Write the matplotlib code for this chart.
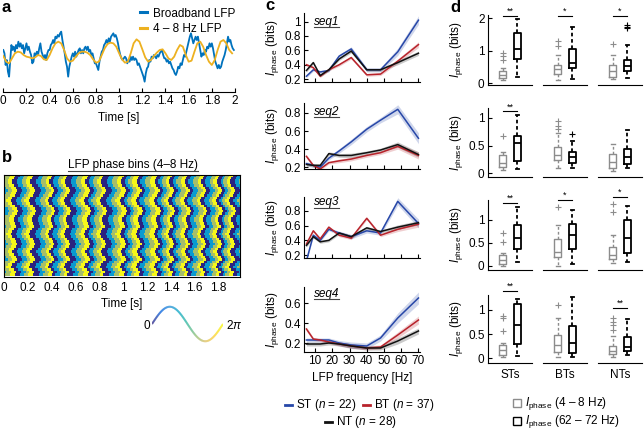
import numpy as np
import matplotlib
matplotlib.use("Agg")
import matplotlib.pyplot as plt
from matplotlib.colors import ListedColormap, LinearSegmentedColormap
from matplotlib.collections import LineCollection
from matplotlib.lines import Line2D

plt.rcParams['font.family'] = ['Liberation Sans', 'DejaVu Sans']
plt.rcParams['mathtext.fontset'] = 'custom'
plt.rcParams['mathtext.rm'] = 'Liberation Sans'
plt.rcParams['mathtext.it'] = 'Liberation Sans:italic'
plt.rcParams['font.size'] = 8.5
plt.rcParams['axes.linewidth'] = 0.8

W, H = 644, 430

# ---------------- panel a: example LFP trace (0.01 s / 0.025 s steps)
broadband = [
    2.0, 1.0, -2.5, -1.0, -4.5, -6.0, -1.0, 3.5, 2.0, 3.0, 1.5, 3.5, 2.5, 4.5, 3.0, 4.0, 2.5, 3.5, 1.0, 2.5,
    4.0, 2.0, 3.0, 1.5, 0.5, -2.0, -1.5, 1.0, 0.5, 1.5, 0.5, 2.5, 4.0, 1.5, 0.5, -0.5, 0.5, -1.0, 1.0, 2.0,
    2.0, 3.5, 4.0, 5.0, 4.0, 6.0, 5.5, 6.5, 6.0, 7.0, 7.5, 5.0, 3.0, 1.0, -1.5, -3.0, -6.0, -3.0, -1.5, 0.0,
    1.0, 0.0, 1.5, 0.0, 1.0, 2.0, 2.5, 1.0, 2.0, 1.0, 2.5, 3.0, 2.0, 3.0, 1.5, 2.0, 0.5, 1.0, -0.5, -2.0,
    -2.0, -3.0, -4.0, -1.5, 0.0, 1.5, 2.0, 3.5, 4.0, 5.0, 4.0, 5.5, 4.5, 6.0, 6.5, 7.0, 6.0, 6.5, 5.5, 4.0,
    2.0, 0.5, -0.5, -1.0, -0.5, 0.0, -0.5, -2.0, -1.0, -1.5, 0.0, -1.0, 0.0, -1.0, -0.5, -1.0, -2.5, -2.0, -3.0, -4.0,
    -5.0, -6.0, -7.5, -5.0, -3.5, -3.0, -1.0, -1.5, 0.0, -0.5, 0.5, 0.0, -0.5, 0.5, 0.0, 1.0, 1.5, 2.0, 0.5, -0.5,
    -0.5, -1.5, -1.0, -2.0, -1.5, -2.5, -3.5, -4.0, -5.0, -5.5, -4.5, -3.0, -3.5, -2.0, -2.5, -1.0, 0.5, 0.0, 1.5, 3.0,
    4.5, 6.0, 7.0, 5.5, 4.0, 5.0, 6.0, 5.0, 6.0, 4.0, 2.0, 0.0, 1.0, 0.5, 2.0, 1.5, 3.0, 2.5, 4.0, 3.0,
    4.0, 2.5, 0.5, -1.5, -2.5, -3.5, -2.5, -3.5, -3.0, -1.5, -0.5, 0.5, 2.0, 4.0, 6.0, 4.5, 5.0, 3.5, 2.5, 2.0,
]
theta = [
    0.2, -1.5, -2.0, -0.5, 1.0, 1.5, 1.3, 0.5, 0.0, -0.2,
    -0.5, -0.2, 0.5, 0.2, -0.8, -1.0, 0.5, 2.5, 4.0, 4.5,
    4.0, 2.0, -0.5, -1.5, -1.2, 0.0, 1.0, 1.5, 1.5, 1.2,
    0.5, -0.8, -1.8, -1.5, 0.5, 2.5, 3.8, 4.2, 4.0, 3.0,
    1.0, -0.8, -1.8, -1.5, 1.0, 4.0, 5.2, 4.5, 2.2, -0.2,
    -1.5, -1.0, 0.2, 1.2, 2.0, 2.2, 1.0, -0.5, -1.0, 0.0,
    2.0, 3.5, 3.0, 0.5, -1.5, -1.2, 1.5, 4.0, 4.5, 3.0,
    0.5, -1.5, -2.5, -1.0, 2.0, 4.5, 5.0, 4.0, 2.0, 1.0,
]
time_ticks = [0, 0.2, 0.4, 0.6, 0.8, 1, 1.2, 1.4, 1.6, 1.8, 2]

# ---------------- panel b: phase raster (times of the yellow bands, per-trial shifts)
yellow_centers = [-0.08, 0.070, 0.224, 0.387, 0.513, 0.681, 0.812, 0.980, 1.106,
                  1.260, 1.386, 1.512, 1.653, 1.787, 1.894, 2.03]
row_shift = [0.00, 0.01, 0.02, 0.02, 0.01, -0.01, -0.02, -0.01, 0.00, 0.02,
             0.03, 0.02, 0.00, -0.02, -0.03, -0.02, 0.00, 0.01, 0.01, 0.00,
             -0.01, 0.01, 0.02, 0.03, 0.02, 0.00, -0.01, -0.02, -0.01, 0.01,
             0.02, 0.01, -0.01, -0.02, 0.00, 0.02, 0.03, 0.01, -0.01, 0.00]
phase_colors = ['#2b2380', '#0a9ad0', '#a6be6a', '#f6f71a']

# ---------------- panel c: phase information vs LFP frequency
freqs = [5, 9, 13, 18, 24, 31, 40, 48, 58, 70]
seq1_st = [0.24, 0.33, 0.30, 0.32, 0.52, 0.62, 0.33, 0.33, 0.58, 1.02]
seq1_bt = [0.40, 0.36, 0.24, 0.33, 0.40, 0.50, 0.26, 0.27, 0.45, 0.68]
seq1_nt = [0.32, 0.43, 0.25, 0.33, 0.48, 0.59, 0.33, 0.33, 0.43, 0.56]
seq2_st = [0.24, 0.22, 0.20, 0.30, 0.38, 0.48, 0.62, 0.72, 0.84, 0.52]
seq2_bt = [0.32, 0.22, 0.18, 0.25, 0.27, 0.29, 0.33, 0.36, 0.43, 0.33]
seq2_nt = [0.23, 0.22, 0.22, 0.35, 0.33, 0.33, 0.36, 0.39, 0.45, 0.34]
seq3_st = [0.12, 0.47, 0.40, 0.55, 0.50, 0.45, 0.53, 0.50, 0.93, 0.63]
seq3_bt = [0.35, 0.53, 0.42, 0.58, 0.47, 0.43, 0.70, 0.47, 0.55, 0.62]
seq3_nt = [0.33, 0.45, 0.38, 0.40, 0.50, 0.45, 0.57, 0.52, 0.58, 0.64]
seq4_st = [0.23, 0.23, 0.23, 0.23, 0.20, 0.18, 0.17, 0.25, 0.45, 0.65]
seq4_bt = [0.34, 0.24, 0.23, 0.21, 0.19, 0.17, 0.15, 0.16, 0.28, 0.43]
seq4_nt = [0.19, 0.19, 0.19, 0.20, 0.19, 0.17, 0.15, 0.15, 0.22, 0.32]
st_sem = [0.02, 0.02, 0.02, 0.02, 0.025, 0.03, 0.03, 0.03, 0.05, 0.06]
bt_sem = [0.02, 0.015, 0.015, 0.015, 0.02, 0.02, 0.02, 0.02, 0.03, 0.04]
nt_sem = [0.02, 0.02, 0.02, 0.02, 0.02, 0.025, 0.02, 0.02, 0.03, 0.03]

# ---------------- panel d: box stats (whislo, q1, med, q3, whishi, fliers)
# order: ST 4-8, ST 62-72, BT 4-8, BT 62-72, NT 4-8, NT 62-72
d_seq1 = [(0.10, 0.15, 0.26, 0.36, 0.46, [0.72, 0.82, 0.92]),
          (0.20, 0.74, 1.04, 1.54, 1.97, []),
          (0.10, 0.29, 0.44, 0.56, 0.87, [1.13, 1.31]),
          (0.13, 0.46, 0.62, 1.05, 1.74, []),
          (0.12, 0.18, 0.36, 0.56, 0.87, [1.20]),
          (0.17, 0.38, 0.54, 0.72, 1.18, [1.70, 1.74, 1.78])]
d_seq2 = [(0.06, 0.12, 0.19, 0.33, 0.39, [0.67]),
          (0.07, 0.22, 0.55, 0.67, 1.06, []),
          (0.09, 0.23, 0.33, 0.48, 0.72, [0.80, 0.85, 0.94]),
          (0.09, 0.18, 0.29, 0.39, 0.58, [0.71]),
          (0.04, 0.09, 0.21, 0.35, 0.53, []),
          (0.09, 0.17, 0.30, 0.44, 0.79, [])]
d_seq3 = [(0.00, 0.04, 0.12, 0.24, 0.29, [0.51, 0.71]),
          (0.09, 0.36, 0.60, 0.89, 1.28, []),
          (0.00, 0.20, 0.31, 0.58, 0.89, [1.28]),
          (0.04, 0.36, 0.67, 0.91, 1.22, []),
          (0.06, 0.14, 0.24, 0.41, 0.67, [1.18, 1.35]),
          (0.09, 0.29, 0.60, 0.99, 1.30, [])]
d_seq4 = [(0.03, 0.07, 0.17, 0.28, 0.31, [0.56, 0.83, 0.88]),
          (0.05, 0.30, 0.69, 1.13, 1.23, []),
          (0.03, 0.12, 0.28, 0.49, 0.83, [1.10]),
          (0.02, 0.10, 0.31, 0.66, 1.27, []),
          (0.03, 0.09, 0.15, 0.26, 0.45, [0.59, 0.69, 0.76, 0.83]),
          (0.07, 0.14, 0.24, 0.44, 0.81, [])]
d_sig = [[(0, '**', 2.08), (1, '*', 2.08), (2, '*', 2.08)],
         [(0, '**', 1.12)],
         [(0, '**', 1.37), (1, '*', 1.43), (2, '*', 1.50)],
         [(0, '**', 1.39), (2, '**', 1.04)]]
groups = ['STs', 'BTs', 'NTs']

ST_C, BT_C, NT_C = '#2747a8', '#b8232b', '#111111'
GRAY = '#8c8c8c'
parula = LinearSegmentedColormap.from_list(
    'parula', ['#352a87', '#0363e1', '#1485d4', '#06a7c6', '#38b99e',
               '#92bf73', '#d9ba56', '#fcce2e', '#f9fb0e'])

fig = plt.figure(figsize=(W / 100, H / 100), dpi=100)


def px_axes(x0, y0, x1, y1):
    return fig.add_axes([x0 / W, 1 - y1 / H, (x1 - x0) / W, (y1 - y0) / H])


def fx(x):
    return x / W


def fy(y):
    return 1 - y / H


def clean(ax, left=False):
    for s in ['top', 'right']:
        ax.spines[s].set_visible(False)
    if not left:
        ax.spines['left'].set_visible(False)
    ax.tick_params(direction='in', length=3, width=0.8, pad=2.5, labelsize=8.5)


underlined = []
ylab = r'$I_{\rm phase}$ (bits)'

# ---- a
ax = px_axes(3.3, 10, 235, 92)
t_b = np.arange(len(broadband)) * 0.01
t_t = np.arange(len(theta)) * 0.025
lb, = ax.plot(t_b, broadband, color='#0072BD', lw=1.3)
lt, = ax.plot(t_t, theta, color='#EDB120', lw=1.3)
ax.set_xlim(0, 2)
ax.set_ylim(-10.6, 14)
clean(ax)
ax.set_yticks([])
ax.set_xticks(time_ticks, ['%g' % v for v in time_ticks])
ax.set_xlabel('Time [s]', labelpad=3)
ax.legend([lb, lt], ['Broadband LFP', '4 – 8 Hz LFP'], loc='upper right',
          frameon=False, handlelength=0.6, handletextpad=0.5, labelspacing=0.3,
          borderaxespad=0, borderpad=0, bbox_to_anchor=(1.0, 1.03))
for h in ax.get_legend().legend_handles:
    h.set_linewidth(2.2)

# ---- b
axb = px_axes(4, 175, 240, 276.5)
t_cols = np.arange(0, 1.98, 0.01) + 0.005
yc = np.array(yellow_centers)
bins = []
for sh in row_shift:
    tt = t_cols + sh
    k = np.searchsorted(yc, tt) - 1
    frac = (tt - yc[k]) / (yc[k + 1] - yc[k])
    bins.append((((frac + 0.875) % 1) * 4).astype(int))
axb.imshow(np.array(bins), cmap=ListedColormap(phase_colors), aspect='auto',
           extent=(0, 1.98, 0, len(row_shift)), interpolation='nearest', vmin=-0.5, vmax=3.5)
axb.set_xlim(0, 1.98)
axb.set_yticks([])
axb.set_xticks(time_ticks[:-1], ['%g' % v for v in time_ticks[:-1]])
axb.tick_params(length=0, pad=4, labelsize=8.5)
axb.set_xlabel('Time [s]', labelpad=3)
underlined.append(fig.text(fx(133), fy(165), 'LFP phase bins (4–8 Hz)', ha='center', va='center'))

axk = px_axes(152, 305, 223, 343)
ph = np.linspace(0, 2 * np.pi, 200)
pts = np.column_stack([ph, np.sin(ph)]).reshape(-1, 1, 2)
lc = LineCollection(np.concatenate([pts[:-1], pts[1:]], axis=1), cmap=parula, linewidth=1.4)
lc.set_array(ph[:-1])
axk.add_collection(lc)
axk.set_xlim(0, 2 * np.pi)
axk.set_ylim(-1.1, 1.1)
axk.axis('off')
axk.text(-0.15, -0.1, '0', ha='right', va='center', fontsize=8.5)
axk.text(2 * np.pi + 0.3, -0.1, r'2$\pi$', ha='left', va='center', fontsize=8.5)

# ---- c
c_layout = [(13, 82, (0.16, 1.12), [0.2, 0.4, 0.6, 0.8, 1], 0.87),
            (103, 169, (0.18, 0.91), [0.2, 0.4, 0.6, 0.8], 0.87),
            (197, 258, (0.16, 0.99), [0.2, 0.4, 0.6, 0.8], 0.91),
            (287, 352, (0.11, 0.76), [0.2, 0.4, 0.6], 0.9)]
c_data = [(seq1_st, seq1_bt, seq1_nt), (seq2_st, seq2_bt, seq2_nt),
          (seq3_st, seq3_bt, seq3_nt), (seq4_st, seq4_bt, seq4_nt)]
for i, ((top, bot, yl, yt, ty), series) in enumerate(zip(c_layout, c_data)):
    ax = px_axes(304, top, 420, bot)
    for vals, sem, col in zip(series, [st_sem, bt_sem, nt_sem], [ST_C, BT_C, NT_C]):
        v = np.array(vals)
        e = np.array(sem)
        ax.fill_between(freqs, v - e, v + e, color=col, alpha=0.22, lw=0)
    for vals, col in zip(series, [ST_C, BT_C, NT_C]):
        ax.plot(freqs, vals, color=col, lw=1.1)
    ax.set_xlim(3.6, 70.9)
    ax.set_ylim(*yl)
    clean(ax, left=True)
    ax.set_yticks(yt, ['%g' % v for v in yt])
    ax.set_xticks([10, 20, 30, 40, 50, 60, 70])
    if i < 3:
        ax.tick_params(labelbottom=False)
    else:
        ax.set_xlabel('LFP frequency [Hz]', labelpad=3)
    ax.set_ylabel(ylab)
    ax.yaxis.set_label_coords(-0.2, 0.5)
    underlined.append(ax.text(0.085, ty, 'seq%d' % (i + 1), style='italic',
                              transform=ax.transAxes, va='center'))

for x0, y0, col, txt in [(285, 405, ST_C, 'ST ($n$ = 22)'), (363, 405, BT_C, 'BT ($n$ = 37)'),
                         (325, 422, NT_C, 'NT ($n$ = 28)')]:
    fig.add_artist(Line2D([fx(x0), fx(x0 + 7)], [fy(y0), fy(y0)], color=col, lw=2))
    fig.text(fx(x0 + 11), fy(y0), txt, va='center')

# ---- d
d_layout = [(15, 85, (-0.06, 2.1), [0, 1, 2]),
            (108, 177, (-0.07, 1.18), [0, 0.5, 1]),
            (200, 270, (-0.09, 1.43), [0, 0.5, 1]),
            (295, 363, (-0.1, 1.31), [0, 0.5, 1])]
group_x = [488, 543, 598]
for r, ((top, bot, yl, yt), stats, sigs) in enumerate(zip(d_layout, [d_seq1, d_seq2, d_seq3, d_seq4], d_sig)):
    for g in range(3):
        ax = px_axes(group_x[g], top, group_x[g] + 44, bot)
        for j in range(2):
            lo, q1, med, q3, hi, fl = stats[2 * g + j]
            col = GRAY if j == 0 else 'black'
            lw = 1.0 if j == 0 else 1.3
            ax.bxp([dict(whislo=lo, q1=q1, med=med, q3=q3, whishi=hi, fliers=fl)],
                   positions=[j + 1], widths=0.52, capwidths=0.25,
                   boxprops=dict(color=col, lw=lw), medianprops=dict(color=col, lw=lw),
                   whiskerprops=dict(color=col, lw=lw, ls=(0, (2, 1.5))),
                   capprops=dict(color=col, lw=lw),
                   flierprops=dict(marker='+', markeredgecolor=col, markersize=4, markeredgewidth=0.8))
        for gi, star, hgt in sigs:
            if gi == g:
                ax.plot([1, 2], [hgt, hgt], color='black', lw=0.8, clip_on=False)
                ax.text(1.5, hgt, star, ha='center', va='bottom', fontsize=6.5)
        ax.set_xlim(0, 3)
        ax.set_ylim(*yl)
        clean(ax, left=(g == 0))
        if g == 0:
            ax.set_yticks(yt, ['%g' % v for v in yt])
            ax.set_ylabel(ylab)
            ax.yaxis.set_label_coords(-0.52, 0.5)
        else:
            ax.set_yticks([])
        if r == 3:
            ax.set_xticks([1.5], [groups[g]])
            ax.tick_params(axis='x', length=0, pad=4)
        else:
            ax.set_xticks([])

for y0, col, txt in [(403, GRAY, r'$I_{\rm phase}$ (4 – 8 Hz)'), (421, 'black', r'$I_{\rm phase}$ (62 – 72 Hz)')]:
    fig.add_artist(Line2D([fx(517)], [fy(y0)], marker='s', markersize=6, mfc='white',
                          mec=col, mew=1.0, transform=fig.transFigure))
    fig.text(fx(525), fy(y0), txt, va='center')

# panel letters
for x0, y0, s in [(2, 8, 'a'), (2, 158, 'b'), (265, 6, 'c'), (450, 7, 'd')]:
    fig.text(fx(x0), fy(y0), s, fontweight='bold', fontsize=12, va='center')

# underline titles
fig.canvas.draw()
rend = fig.canvas.get_renderer()
for t in underlined:
    bb = t.get_window_extent(rend)
    fig.add_artist(Line2D([bb.x0 / W, bb.x1 / W], [(bb.y0 + 0.5) / H] * 2, color='#444444', lw=0.8))

fig.savefig('out.png', dpi=100)
